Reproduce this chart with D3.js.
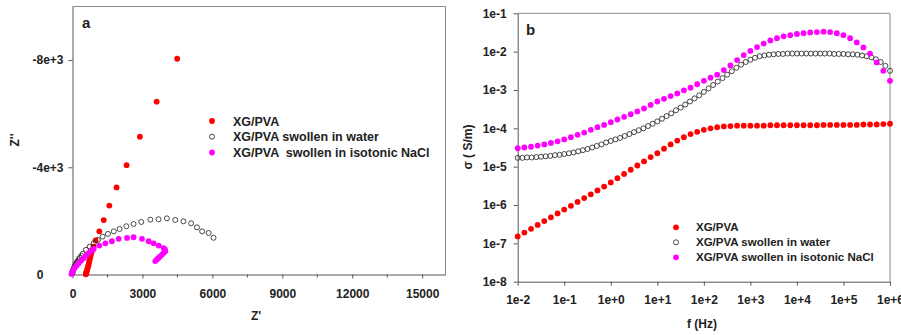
<!DOCTYPE html>
<html>
<head>
<meta charset="utf-8">
<script src="https://cdn.jsdelivr.net/npm/d3@7"></script>
<style>
  html, body { margin: 0; padding: 0; background: #fff; }
  svg { display: block; font-family: "Liberation Sans", Arial, sans-serif; }
  .tick text { font-weight: bold; fill: #222; }
</style>
</head>
<body>
<svg id="fig" width="901" height="335"></svg>
<script>
// ---------- Panel a: Nyquist plot (Z' vs Z'') ----------
const seriesNames = ["XG/PVA", "XG/PVA swollen in water", "XG/PVA  swollen in isotonic NaCl"];
const seriesNamesB = ["XG/PVA", "XG/PVA swollen in water", "XG/PVA swollen in isotonic NaCl"];

// [Z', Z''] pairs, ohm
const nyqDry = [[4490,-8050],[3610,-6450],[2890,-5140],[2320,-4080],[1890,-3250],[1580,-2570],
  [1340,-2030],[1150,-1610],[990,-1270],[900,-1040],[860,-930],[820,-830],[790,-740],[760,-650],
  [740,-570],[720,-490],[700,-410],[680,-340],[660,-270],[640,-210],[620,-150],[600,-100],
  [590,-60],[580,-30],[570,-10]];
const nyqWater = [[6050,-1370],[5840,-1550],[5560,-1610],[5340,-1760],[5090,-1910],[4760,-1985],
  [4410,-2035],[4050,-2095],[3690,-2060],[3340,-2045],[2950,-1960],[2620,-1885],[2310,-1800],
  [2020,-1700],[1770,-1610],[1520,-1515],[1290,-1415],[1090,-1290],[910,-1165],[740,-1040],
  [580,-920],[440,-770],[380,-700],[310,-620],[270,-570],[220,-500],[190,-460],[165,-420],
  [140,-380],[120,-340],[95,-300],[75,-260],[55,-220],[40,-185],[20,-150],[10,-110],[0,-80],[-10,-40]];
const nyqNaCl = [[3550,-500],[3620,-560],[3690,-620],[3760,-680],[3840,-745],[3910,-810],
  [3980,-870],[3960,-950],[3907,-985],[3700,-1080],[3480,-1165],[3265,-1240],[2980,-1330],
  [2620,-1390],[2340,-1365],[1980,-1330],[1690,-1240],[1410,-1165],[1150,-1080],[910,-955],
  [800,-880],[690,-795],[590,-710],[480,-620],[370,-520],[265,-420],[180,-335],[95,-250],
  [40,-170],[-20,-90],[-40,-20]];

const zReTicks = [0, 3000, 6000, 9000, 12000, 15000];
const zReMinor = [1500, 4500, 7500, 10500, 13500];
const zImTicks = [0, -4000, -8000];
const zImTickLabels = ["0", "-4e+3", "-8e+3"];

// ---------- Panel b: conductivity vs frequency ----------
// log10 of frequency (Hz)
const freqExpA = [-2.000,-1.857,-1.714,-1.571,-1.429,-1.286,-1.143,-1.000,-0.857,-0.714,-0.571,-0.429,
  -0.286,-0.143,0.000,0.143,0.286,0.429,0.571,0.714,0.857,1.000,1.143,1.286,1.429,1.571,1.714,1.857,
  2.000,2.143,2.286,2.429,2.571,2.714,2.857,3.000,3.143,3.286,3.429,3.571,3.714,3.857,4.000,4.143,
  4.286,4.429,4.571,4.714,4.857,5.000,5.143,5.286,5.429,5.571,5.714,5.857,6.000];
const freqExpB = [-2.0,-1.9,-1.8,-1.7,-1.6,-1.5,-1.4,-1.3,-1.2,-1.1,-1.0,-0.9,-0.8,-0.7,-0.6,-0.5,
  -0.4,-0.3,-0.2,-0.1,0.0,0.1,0.2,0.3,0.4,0.5,0.6,0.7,0.8,0.9,1.0,1.1,1.2,1.3,1.4,1.5,1.6,1.7,1.8,1.9,
  2.0,2.1,2.2,2.3,2.4,2.5,2.6,2.7,2.8,2.9,3.0,3.1,3.2,3.3,3.4,3.5,3.6,3.7,3.8,3.9,4.0,4.1,4.2,4.3,4.4,
  4.5,4.6,4.7,4.8,4.9,5.0,5.1,5.2,5.3,5.4,5.5,5.6,5.7,5.8,5.9,6.0];
// log10 of conductivity (S/m)
const sigmaDryExp = [-6.82,-6.72,-6.62,-6.52,-6.42,-6.32,-6.22,-6.12,-6.02,-5.92,-5.82,-5.72,-5.62,-5.52,
  -5.41,-5.30,-5.19,-5.08,-4.97,-4.86,-4.75,-4.65,-4.53,-4.42,-4.32,-4.23,-4.15,-4.09,
  -4.04,-4.00,-3.97,-3.95,-3.94,-3.93,-3.93,-3.93,-3.93,-3.93,-3.92,-3.92,-3.92,-3.92,
  -3.92,-3.92,-3.92,-3.92,-3.91,-3.91,-3.91,-3.91,-3.91,-3.91,-3.90,-3.90,-3.90,-3.89,-3.88];
const sigmaNaClExp = [-4.52,-4.50,-4.48,-4.45,-4.42,-4.38,-4.34,-4.29,-4.23,-4.17,-4.11,-4.04,-3.97,-3.91,
  -3.84,-3.77,-3.70,-3.63,-3.56,-3.48,-3.39,-3.30,-3.23,-3.16,-3.09,-3.01,-2.94,-2.85,
  -2.76,-2.68,-2.60,-2.48,-2.36,-2.22,-2.09,-1.98,-1.88,-1.79,-1.71,-1.65,-1.60,-1.57,
  -1.54,-1.52,-1.50,-1.49,-1.48,-1.49,-1.52,-1.57,-1.65,-1.76,-1.89,-2.05,-2.28,-2.50,-2.76];
const sigmaWaterExp = [-4.77,-4.77,-4.76,-4.76,-4.75,-4.74,-4.73,-4.72,-4.70,-4.69,
  -4.67,-4.65,-4.63,-4.60,-4.57,-4.54,-4.50,-4.46,-4.42,-4.37,
  -4.33,-4.29,-4.25,-4.20,-4.15,-4.10,-4.05,-4.00,-3.94,-3.88,
  -3.82,-3.75,-3.68,-3.61,-3.53,-3.46,-3.38,-3.30,-3.22,-3.14,
  -3.05,-2.96,-2.87,-2.78,-2.69,-2.60,-2.51,-2.42,-2.34,-2.27,
  -2.21,-2.16,-2.12,-2.10,-2.08,-2.07,-2.06,-2.06,-2.05,-2.05,
  -2.05,-2.05,-2.05,-2.05,-2.05,-2.05,-2.05,-2.05,-2.06,-2.06,
  -2.06,-2.07,-2.07,-2.08,-2.10,-2.12,-2.15,-2.20,-2.27,-2.37,
  -2.50];

const fTicks = [1e-2,1e-1,1e0,1e1,1e2,1e3,1e4,1e5,1e6];
const fTickLabels = ["1e-2","1e-1","1e+0","1e+1","1e+2","1e+3","1e+4","1e+5","1e+6"];
const sTicks = [1e-8,1e-7,1e-6,1e-5,1e-4,1e-3,1e-2,1e-1];
const sTickLabels = ["1e-8","1e-7","1e-6","1e-5","1e-4","1e-3","1e-2","1e-1"];

const RED = "#ff0000", MAGENTA = "#ff00ff", RING = "#333333";
const AXIS = "#555555", FRAME = "#8a8a8a";
const DOT_R = 2.9, RING_R = 2.5;

const svg = d3.select("#fig");

function styleAxis(g) {
  g.selectAll(".domain").attr("stroke", AXIS).attr("stroke-width", 1);
  g.selectAll(".tick line").attr("stroke", AXIS);
  g.selectAll(".tick text").attr("font-size", 12);
}

// ===== Panel a =====
{
  const x = d3.scaleLinear().domain([0, 16000]).range([72.5, 445.5]);
  const y = d3.scaleLinear().domain([0, -10000]).range([274.5, 6.5]);

  // frame
  svg.append("path")
    .attr("d", `M${x(0)},${y(-10000)}H${x(16000)}V${y(0)}`)
    .attr("fill", "none").attr("stroke", FRAME);

  const gx = svg.append("g").attr("transform", `translate(0,${y(0)})`)
    .call(d3.axisBottom(x).tickValues(zReTicks).tickFormat(d3.format("d"))
      .tickSize(4).tickPadding(11).tickSizeOuter(0));
  styleAxis(gx);
  gx.selectAll(".minor").data(zReMinor).enter().append("line")
    .attr("x1", d => x(d)).attr("x2", d => x(d)).attr("y1", 0).attr("y2", 3)
    .attr("stroke", AXIS);

  const gy = svg.append("g").attr("transform", `translate(${x(0)},0)`)
    .call(d3.axisLeft(y).tickValues(zImTicks).tickFormat((d, i) => zImTickLabels[i])
      .tickSize(4).tickPadding(5).tickSizeOuter(0));
  styleAxis(gy);
  gy.selectAll(".tick text").filter(d => d === 0).attr("x", -29);

  const plotA = svg.append("g");
  plotA.selectAll(".dry").data(nyqDry).enter().append("circle")
    .attr("cx", d => x(d[0])).attr("cy", d => y(d[1])).attr("r", DOT_R).attr("fill", RED);
  plotA.selectAll(".water").data(nyqWater).enter().append("circle")
    .attr("cx", d => x(d[0])).attr("cy", d => y(d[1])).attr("r", RING_R)
    .attr("fill", "none").attr("stroke", RING).attr("stroke-width", 0.9);
  plotA.selectAll(".nacl").data(nyqNaCl).enter().append("circle")
    .attr("cx", d => x(d[0])).attr("cy", d => y(d[1])).attr("r", DOT_R).attr("fill", MAGENTA);

  svg.append("text").attr("x", 82).attr("y", 28).attr("font-size", 15)
    .attr("font-weight", "bold").attr("fill", "#222").text("a");

  svg.append("text").attr("x", 256).attr("y", 320).attr("text-anchor", "middle")
    .attr("font-size", 12).attr("font-weight", "bold").attr("fill", "#222").text("Z'");
  svg.append("text").attr("transform", "translate(19,140) rotate(-90)").attr("text-anchor", "middle")
    .attr("font-size", 12).attr("font-weight", "bold").attr("fill", "#222").text("Z''");

  const legA = svg.append("g");
  const rowsA = [121, 136.7, 152.5];
  seriesNames.forEach((name, i) => {
    const c = legA.append("circle").attr("cx", 212).attr("cy", rowsA[i]).attr("r", DOT_R);
    if (i === 1) c.attr("fill", "none").attr("stroke", RING).attr("stroke-width", 0.9).attr("r", RING_R);
    else c.attr("fill", i === 0 ? RED : MAGENTA);
    legA.append("text").attr("x", 233).attr("y", rowsA[i]).attr("dy", "0.36em")
      .attr("font-size", 12.5).attr("font-weight", "bold").attr("fill", "#222")
      .style("white-space", "pre").text(name);
  });
}

// ===== Panel b =====
{
  const x = d3.scaleLog().domain([1e-2, 1e6]).range([517.7, 890]);
  const y = d3.scaleLog().domain([1e-8, 1e-1]).range([281.7, 13.3]);

  svg.append("path")
    .attr("d", `M${x(1e-2)},${y(1e-1)}H${x(1e6)}V${y(1e-8)}`)
    .attr("fill", "none").attr("stroke", FRAME);

  const gx = svg.append("g").attr("transform", `translate(0,${y(1e-8)})`)
    .call(d3.axisBottom(x).tickValues(fTicks).tickFormat((d, i) => fTickLabels[i])
      .tickSize(4).tickPadding(10).tickSizeOuter(0));
  styleAxis(gx);

  const gy = svg.append("g").attr("transform", `translate(${x(1e-2)},0)`)
    .call(d3.axisLeft(y).tickValues(sTicks).tickFormat((d, i) => sTickLabels[i])
      .tickSize(4).tickPadding(7).tickSizeOuter(0));
  styleAxis(gy);

  const plotB = svg.append("g");
  plotB.selectAll(".dry").data(freqExpA.map((f, i) => [f, sigmaDryExp[i]])).enter().append("circle")
    .attr("cx", d => x(Math.pow(10, d[0]))).attr("cy", d => y(Math.pow(10, d[1])))
    .attr("r", DOT_R).attr("fill", RED);
  plotB.selectAll(".water").data(freqExpB.map((f, i) => [f, sigmaWaterExp[i]])).enter().append("circle")
    .attr("cx", d => x(Math.pow(10, d[0]))).attr("cy", d => y(Math.pow(10, d[1])))
    .attr("r", RING_R).attr("fill", "none").attr("stroke", RING).attr("stroke-width", 0.9);
  plotB.selectAll(".nacl").data(freqExpA.map((f, i) => [f, sigmaNaClExp[i]])).enter().append("circle")
    .attr("cx", d => x(Math.pow(10, d[0]))).attr("cy", d => y(Math.pow(10, d[1])))
    .attr("r", DOT_R).attr("fill", MAGENTA);

  svg.append("text").attr("x", 526).attr("y", 35).attr("font-size", 15)
    .attr("font-weight", "bold").attr("fill", "#222").text("b");

  svg.append("text").attr("x", 702).attr("y", 328).attr("text-anchor", "middle")
    .attr("font-size", 12).attr("font-weight", "bold").attr("fill", "#222").text("f (Hz)");
  svg.append("text").attr("transform", "translate(472,147) rotate(-90)").attr("text-anchor", "middle")
    .attr("font-size", 12).attr("font-weight", "bold").attr("fill", "#222")
    .style("white-space", "pre").text("σ ( S/m)");

  const legB = svg.append("g");
  const rowsB = [227.3, 242.3, 257.3];
  seriesNamesB.forEach((name, i) => {
    const c = legB.append("circle").attr("cx", 676).attr("cy", rowsB[i]).attr("r", DOT_R);
    if (i === 1) c.attr("fill", "none").attr("stroke", RING).attr("stroke-width", 0.9).attr("r", RING_R);
    else c.attr("fill", i === 0 ? RED : MAGENTA);
    legB.append("text").attr("x", 696).attr("y", rowsB[i]).attr("dy", "0.36em")
      .attr("font-size", 11.5).attr("font-weight", "bold").attr("fill", "#222").text(name);
  });
}
</script>
</body>
</html>
